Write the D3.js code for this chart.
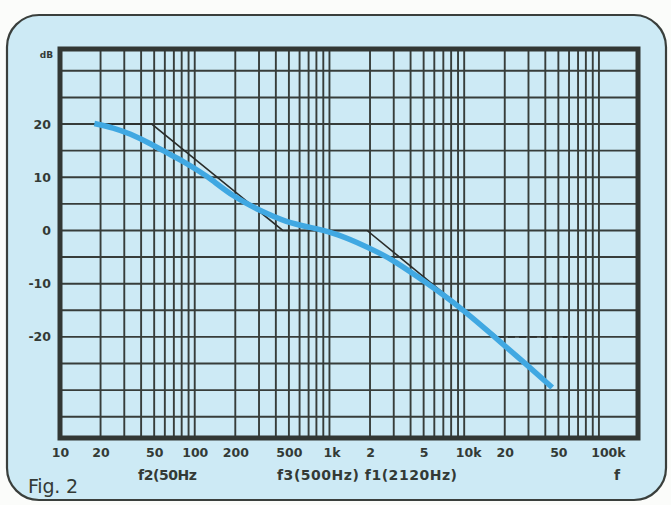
<!DOCTYPE html>
<html>
<head>
<meta charset="utf-8">
<script src="https://cdn.jsdelivr.net/npm/d3@7"></script>
<style>
    body { margin: 0; background: #fbfcfa; }
    svg { display: block; }
    text { font-family: 'DejaVu Sans', sans-serif; fill: #333a36; }
</style>
</head>
<body>
<div id="chart"></div>
<script>
// x axis tick positions and their labels
const tickFreqs = [10, 20, 50, 100, 200, 500, 1000, 2000, 5000, 10000, 20000, 50000, 100000];
const tickLabels = ['10', '20', '50', '100', '200', '500', '1k', '2', '5', '10k', '20', '50', '100k'];
const dbTicks = [20, 10, 0, -10, -20];

// measured response (blue)
const curveFreq = [18, 25, 33, 47, 62, 82, 110, 130, 192, 305, 484, 718, 1064, 1603, 2377, 2966, 5310, 9330, 18500, 29300, 45000];
const curveDb = [20.1, 19.3, 18.2, 16.3, 14.6, 13.0, 11.0, 9.8, 6.4, 3.7, 1.5, 0.6, -0.4, -2.2, -4.3, -5.6, -9.9, -14.4, -20.9, -25.3, -29.5];

// straight-line asymptote (black) and its dashed continuation
const asymFreq = [18, 48, 450, 1900, 17500];
const asymDb = [20, 20, 0, 0, -20];
const dashFreq = [17500, 58000];
const dashDb = [-20, -20];

const width = 671;
const height = 505;
const plot = { left: 60, right: 638, top: 49, bottom: 438 };

const svg = d3.select('#chart').append('svg').attr('width', width).attr('height', height);

// card
svg.append('rect')
    .attr('x', 7).attr('y', 15)
    .attr('width', 659).attr('height', 485)
    .attr('rx', 32)
    .attr('fill', '#cdeaf5')
    .attr('stroke', '#3a3f3c')
    .attr('stroke-width', 2.2);

const x = d3.scaleLog().domain([10, Math.pow(10, 5.29)]).range([plot.left, plot.right]);
const y = d3.scaleLinear().domain([-39, 34.1]).range([plot.bottom, plot.top]);

const gridColor = '#373d3a';

// vertical grid: 2..9 times each decade, up to 100k
const vGrid = [];
for (let dec = 10; dec <= 10000; dec *= 10) {
    for (let m = 2; m <= 10; m++) vGrid.push(dec * m);
}
svg.append('g').selectAll('line').data(vGrid).enter().append('line')
    .attr('x1', (d) => x(d)).attr('x2', (d) => x(d))
    .attr('y1', plot.top).attr('y2', plot.bottom)
    .attr('stroke', gridColor).attr('stroke-width', 1.9);

// horizontal grid every 5 dB
svg.append('g').selectAll('line').data(d3.range(-35, 31, 5)).enter().append('line')
    .attr('x1', plot.left).attr('x2', plot.right)
    .attr('y1', (d) => y(d)).attr('y2', (d) => y(d))
    .attr('stroke', gridColor).attr('stroke-width', 1.9);

// thick frame
svg.append('rect')
    .attr('x', plot.left).attr('y', plot.top)
    .attr('width', plot.right - plot.left).attr('height', plot.bottom - plot.top)
    .attr('fill', 'none')
    .attr('stroke', '#323734')
    .attr('stroke-width', 5);

const line = d3.line().x((d) => x(d[0])).y((d) => y(d[1]));

// asymptote
svg.append('path')
    .datum(asymFreq.map((f, i) => [f, asymDb[i]]))
    .attr('d', line)
    .attr('fill', 'none').attr('stroke', '#2a2d2b').attr('stroke-width', 1.6);

svg.append('path')
    .datum(dashFreq.map((f, i) => [f, dashDb[i]]))
    .attr('d', line)
    .attr('fill', 'none').attr('stroke', '#2a2d2b').attr('stroke-width', 1.6)
    .attr('stroke-dasharray', '7,4');

// measured curve, smoothed like the hand-drawn original
const smooth = d3.line().x((d) => x(d[0])).y((d) => y(d[1])).curve(d3.curveBasis);
svg.append('path')
    .datum(curveFreq.map((f, i) => [f, curveDb[i]]))
    .attr('d', smooth)
    .attr('fill', 'none').attr('stroke', '#40a8e2').attr('stroke-width', 5.5)
    .attr('stroke-linecap', 'butt');

// x axis labels ("k" hangs to the right of the number)
const kShift = { '1k': 2, '10k': 4, '100k': 9 };
const xAxis = svg.append('g')
    .attr('transform', `translate(0, ${plot.bottom + 7})`)
    .call(d3.axisBottom(x).tickValues(tickFreqs).tickSize(0).tickFormat((d, i) => tickLabels[i]));
xAxis.select('.domain').remove();
xAxis.selectAll('text')
    .attr('font-size', 12.5).attr('font-weight', 'bold')
    .attr('dx', (d, i) => kShift[tickLabels[i]] || 0)
    .style('font-family', "'DejaVu Sans', sans-serif").attr('fill', '#333a36');

// y axis labels
const yAxis = svg.append('g')
    .attr('transform', `translate(${plot.left - 6}, 0)`)
    .call(d3.axisLeft(y).tickValues(dbTicks).tickSize(0).tickFormat((d) => String(d)));
yAxis.select('.domain').remove();
yAxis.selectAll('text').attr('font-size', 12.5).attr('font-weight', 'bold')
    .style('font-family', "'DejaVu Sans', sans-serif").attr('fill', '#333a36');

svg.append('text').attr('x', 53).attr('y', 58).attr('text-anchor', 'end')
    .attr('font-size', 9).attr('font-weight', 'bold').text('dB');

// corner-frequency captions
svg.append('text').attr('x', 138).attr('y', 480).attr('font-size', 14).attr('font-weight', 'bold')
    .attr('textLength', 59).text('f2(50Hz');
svg.append('text').attr('x', 277).attr('y', 480).attr('font-size', 14).attr('font-weight', 'bold')
    .attr('textLength', 180).text('f3(500Hz) f1(2120Hz)');
svg.append('text').attr('x', 617).attr('y', 480).attr('text-anchor', 'middle').attr('font-size', 14).attr('font-weight', 'bold').text('f');

svg.append('text').attr('x', 28).attr('y', 493).attr('font-size', 19).attr('fill', '#333a36')
    .attr('textLength', 50).text('Fig. 2');
</script>
</body>
</html>
